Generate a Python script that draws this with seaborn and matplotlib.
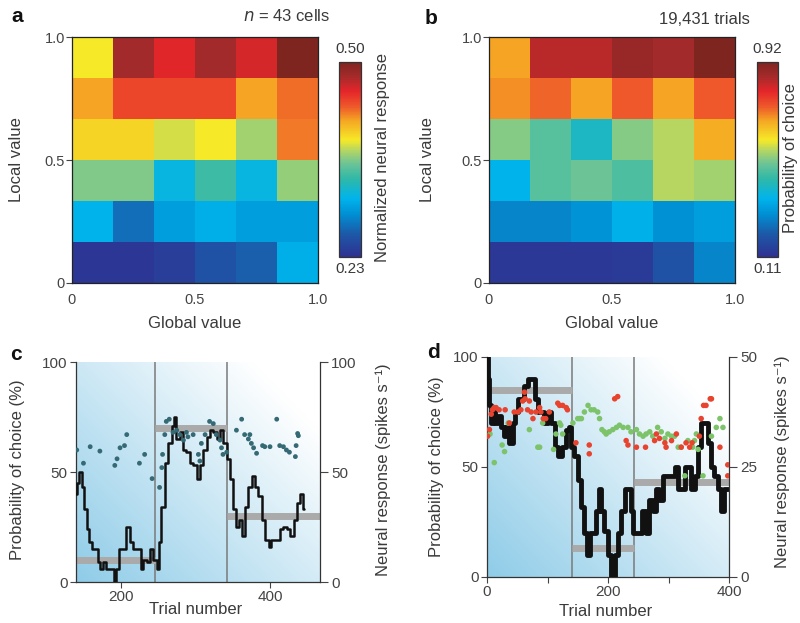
import numpy as np
import pandas as pd
import matplotlib
matplotlib.use('Agg')
import matplotlib.pyplot as plt
import seaborn as sns
from matplotlib.colors import LinearSegmentedColormap

# ---- panel a: normalized neural response (rows: local value 1.0 at top -> 0 at bottom)
resp_rows = [
    [0.392, 0.481, 0.460, 0.481, 0.465, 0.500],
    [0.419, 0.446, 0.446, 0.446, 0.419, 0.433],
    [0.400, 0.400, 0.384, 0.392, 0.373, 0.430],
    [0.365, 0.365, 0.316, 0.343, 0.316, 0.370],
    [0.311, 0.273, 0.298, 0.308, 0.298, 0.298],
    [0.235, 0.235, 0.241, 0.257, 0.265, 0.308],
]
resp_range = (0.23, 0.50)

# ---- panel b: probability of choice
choice_rows = [
    [0.677, 0.839, 0.839, 0.880, 0.863, 0.920],
    [0.693, 0.726, 0.677, 0.734, 0.677, 0.734],
    [0.515, 0.475, 0.402, 0.515, 0.556, 0.669],
    [0.353, 0.475, 0.499, 0.466, 0.556, 0.539],
    [0.272, 0.272, 0.296, 0.345, 0.288, 0.313],
    [0.126, 0.126, 0.126, 0.134, 0.191, 0.272],
]
choice_range = (0.11, 0.92)

# ---- panel c: one session
c_trial = [140, 143, 146, 149, 153, 156, 159, 163, 167, 171, 174, 178, 183, 190, 192, 195, 199, 205, 210, 214,
           219, 225, 228, 232, 237, 241, 246, 250, 252, 257, 261, 266, 270, 272, 277, 281, 286, 290, 295, 299,
           304, 308, 313, 317, 322, 326, 331, 335, 340, 344, 349, 353, 356, 360, 364, 369, 373, 378, 382, 387,
           391, 396, 400, 404, 411, 416, 420, 425, 429, 434, 438, 443, 446]
c_choice = [40, 45, 50, 43, 33, 24, 18, 15, 15, 9, 6, 9, 6, 6, 0, 6, 15, 15, 25, 18,
            15, 15, 6, 10, 9, 15, 10, 6, 18, 34, 54, 63, 71, 75, 65, 68, 60, 59, 54, 53,
            47, 53, 60, 66, 69, 68, 65, 69, 63, 56, 47, 33, 25, 28, 21, 34, 43, 48, 43, 39,
            28, 19, 16, 19, 19, 24, 25, 24, 21, 28, 36, 40, 33]
c_dot_trial = [141, 150, 159, 172, 192, 195, 199, 205, 208, 225, 232, 242,
               252, 255, 256, 259, 261, 265, 270, 275, 279, 284, 288, 290, 297, 304, 306, 308, 313, 319, 324,
               328, 333, 335, 337, 342,
               355, 362, 366, 371, 373, 375, 378, 382, 390, 393, 400, 409, 413, 418, 422, 426, 434, 435, 437, 438]
c_dot_rate = [60, 54, 61.5, 59.5, 53, 56, 61, 62, 67, 54, 58, 47,
              43, 52, 58, 67, 73, 74, 68, 69, 67, 64.5, 68, 66, 67, 58, 55, 63, 67, 73, 72,
              67, 64.5, 61, 58, 59,
              69, 74, 67, 65, 67, 63, 61, 58.5, 62, 61.5, 61.5, 74, 62, 61.5, 60, 59, 57, 62, 67.5, 66.5]
c_blocks = [140, 246, 342, 467]
c_block_mean = [10, 70, 30]

# ---- panel d: another session
d_trial = [1, 3, 5, 8, 12, 16, 20, 26, 30, 34, 40, 45, 49, 54, 59, 63, 71, 78, 82, 87,
           92, 98, 103, 110, 114, 120, 128, 133, 137, 142, 147, 153, 158, 164, 168, 172, 178, 183, 187, 191,
           197, 202, 208, 214, 219, 225, 230, 236, 239, 244, 252, 260, 266, 271, 277, 282, 288, 294, 299, 307,
           313, 318, 324, 329, 335, 340, 346, 351, 357, 362, 368, 373, 379, 385, 389, 393, 398]
d_choice = [100, 90, 78, 70, 75, 70, 73, 68, 64, 68, 61, 70, 75, 81, 81, 87, 90, 90, 81, 75,
            75, 70, 75, 70, 59, 55, 59, 67, 68, 59, 55, 44, 32, 20, 10, 20, 20, 30, 40, 30,
            21, 10, 0, 10, 20, 30, 40, 40, 30, 20, 20, 30, 20, 35, 30, 40, 35, 46, 46, 46,
            50, 40, 40, 50, 50, 40, 46, 59, 70, 70, 61, 50, 46, 40, 30, 40, 40]
d_red_trial = [1, 4, 7, 9, 12, 15, 20, 30, 37, 45, 51, 56, 59, 62, 63, 67, 70, 73, 76, 81,
               87, 89, 93, 97, 103, 117, 120, 125, 131, 133, 147, 169, 169, 211, 216, 230, 233, 247, 262, 277,
               280, 285, 294, 296, 305, 313, 321, 329, 335, 339, 351, 354, 358, 362, 369, 371, 385, 398, 398]
d_red_rate = [32, 33.5, 37, 38, 38.5, 38.5, 38, 38, 35, 37.5, 37.5, 38, 40, 42, 40.5, 38, 40, 37.5, 36, 37.5,
              38.5, 37.5, 36, 36, 37.5, 39.5, 39, 39, 38.5, 38, 30.5, 30, 28, 40.5, 41, 31, 30, 29.5, 29.5, 31,
              32.5, 31.5, 30.5, 29.5, 31, 32.5, 29.5, 30.5, 29.5, 30.5, 32, 36, 39, 39, 40.5, 40.5, 29.5, 25.5, 23]
d_green_trial = [5, 12, 25, 29, 35, 70, 84, 87, 92, 110, 114, 120, 122, 125, 142, 150, 153, 156, 161, 167,
                 172, 177, 183, 186, 190, 194, 197, 202, 208, 214, 219, 225, 233, 238, 247, 252, 258, 263, 269, 274,
                 282, 288, 294, 299, 305, 310, 316, 321, 327, 332, 340, 343, 346, 349, 357, 371, 379, 385, 390]
d_green_rate = [32.5, 26, 30, 28.5, 35, 33.5, 29.5, 29.5, 35, 29, 32.5, 35, 34.5, 32.5, 35, 36, 36, 36, 37.5, 39,
                38, 38, 37.5, 36, 33.5, 33, 32.5, 33, 33.5, 34, 34.5, 34, 34, 33, 33.5, 32.5, 32, 32.5, 33, 32,
                34, 33, 31.5, 32.5, 32, 32, 29.5, 29.5, 23, 31, 29.5, 31, 32.5, 29, 23, 32, 34, 36, 34]
d_blocks = [0, 140, 243, 400]
d_block_mean = [85, 13, 43]

value_ticks = ['0', '0.5', '1.0']

sns.set_style('ticks')
plt.rcParams['font.family'] = ['Liberation Sans', 'DejaVu Sans']
TXT = '#3a3a3a'
plt.rcParams['text.color'] = TXT
plt.rcParams['axes.labelcolor'] = TXT
plt.rcParams['xtick.color'] = '#444444'
plt.rcParams['ytick.color'] = '#444444'

W, H = 800, 623
fig = plt.figure(figsize=(8, 6.23), dpi=100)


def box(x0, y0, x1, y1):
    return [x0 / W, 1 - y1 / H, (x1 - x0) / W, (y1 - y0) / H]


def ftext(x, y, s, **kw):
    fig.text(x / W, 1 - y / H, s, **kw)


cmap = LinearSegmentedColormap.from_list('value', list(zip(
    [0, 0.12, 0.22, 0.3, 0.4, 0.48, 0.55, 0.6, 0.7, 0.77, 0.85, 0.93, 1.0],
    ['#2e3192', '#1c5aa8', '#0090d4', '#00b4ec', '#2fb8a8', '#6dc496', '#b8d660',
     '#f6e928', '#f5a623', '#ee5a2a', '#e5262a', '#a32a2a', '#7f2520'])))


def heat(rows, rng, ax_box, cb_box, ylab_x, cblabel, cblabel_x):
    ax = fig.add_axes(box(*ax_box))
    cax = fig.add_axes(box(*cb_box))
    df = pd.DataFrame(rows)
    sns.heatmap(df, ax=ax, cbar_ax=cax, cmap=cmap, vmin=rng[0], vmax=rng[1],
                xticklabels=False, yticklabels=False)
    ax.set_xticks([0, 3, 6])
    ax.set_xticklabels(value_ticks, fontsize=10.5)
    ax.set_yticks([6, 3, 0])
    ax.set_yticklabels(value_ticks, fontsize=10.5, rotation=0)
    ax.tick_params(axis='y', left=True, length=4, width=0.8, pad=1)
    ax.tick_params(axis='x', bottom=False, pad=4)
    for s in ax.spines.values():
        s.set_visible(True)
        s.set_color('#222222')
        s.set_linewidth(0.9)
    ax.set_xlabel('')
    ax.set_ylabel('')
    cax.set_yticks([])
    cb = ax.collections[0].colorbar
    cb.outline.set_edgecolor('#333333')
    cb.outline.set_linewidth(0.9)
    cx = (cb_box[0] + cb_box[2]) / 2
    ftext(cx, cb_box[1] - 13, f'{rng[1]:.2f}', ha='center', va='center', fontsize=11)
    ftext(cx, cb_box[3] + 12, f'{rng[0]:.2f}', ha='center', va='center', fontsize=11)
    ftext(cblabel_x, 158, cblabel, rotation=90, ha='center', va='center', fontsize=12)
    ftext(ylab_x, 160, 'Local value', rotation=90, ha='center', va='center', fontsize=12)
    ftext((ax_box[0] + ax_box[2]) / 2, 324, 'Global value', ha='center', va='center', fontsize=12)
    return ax


heat(resp_rows, resp_range, (72, 37, 318, 283), (339, 62, 361, 257), 17,
     'Normalized neural response', 383)
heat(choice_rows, choice_range, (489, 37, 735, 283), (757, 62, 778, 257), 428,
     'Probability of choice', 791)

ftext(17, 16, 'a', fontsize=15, fontweight='bold', ha='center', va='center', color='#111111')
ftext(431, 18, 'b', fontsize=15, fontweight='bold', ha='center', va='center', color='#111111')
ftext(330, 16, '$n$ = 43 cells', ha='right', va='center', fontsize=12)
ftext(750, 20, '19,431 trials', ha='right', va='center', fontsize=12)


def gradient(ax):
    x0, x1 = ax.get_xlim()
    y0, y1 = ax.get_ylim()
    xx, yy = np.meshgrid(np.linspace(0, 1, 200), np.linspace(0, 1, 200))
    w = np.clip(1 - 0.62 * xx - 0.55 * yy, 0, 1)[..., None]
    blue = np.array([0.56, 0.80, 0.91])
    img = (1 - w) * np.ones(3) + w * blue
    ax.imshow(img, extent=(x0, x1, y0, y1), origin='lower', aspect='auto', zorder=0)


def session(ax_box, trial, choice, blocks, means, xlim, rmax, xticks, xticklabels, lw):
    ax = fig.add_axes(box(*ax_box))
    ax.set_xlim(*xlim)
    ax.set_ylim(0, 100)
    gradient(ax)
    for b in blocks[1:-1]:
        ax.axvline(b, color='#7a7a7a', lw=1.1, zorder=1)
    ax.hlines(means, blocks[:-1], blocks[1:], color='#aaaaaa', lw=5, zorder=2)
    sns.lineplot(x=trial, y=choice, ax=ax, color='#111111', lw=lw, drawstyle='steps-mid', zorder=4)
    ax.set_yticks([0, 50, 100])
    ax.set_yticklabels(['0', '50', '100'], fontsize=11)
    ax.set_xticks(xticks)
    ax.set_xticklabels(xticklabels, fontsize=11)
    ax.tick_params(length=4, width=0.8, pad=2)
    ax.spines['top'].set_visible(False)
    ax.spines['right'].set_visible(False)
    for s in ('left', 'bottom'):
        ax.spines[s].set_color('#333333')
        ax.spines[s].set_linewidth(0.9)
    ax2 = ax.twinx()
    ax2.set_ylim(0, rmax)
    ax2.set_yticks([0, rmax / 2, rmax])
    ax2.set_yticklabels([f'{v:g}' for v in (0, rmax / 2, rmax)], fontsize=11)
    ax2.tick_params(length=6, width=0.8, pad=2)
    ax2.spines['top'].set_visible(False)
    ax2.spines['left'].set_visible(False)
    ax2.spines['bottom'].set_visible(False)
    ax2.spines['right'].set_color('#333333')
    ax2.spines['right'].set_linewidth(0.9)
    ax.set_zorder(1)
    ax2.set_zorder(2)
    ax2.patch.set_visible(False)
    return ax, ax2


ax_c, ax_c2 = session((76, 362, 320, 582), c_trial, c_choice, c_blocks, c_block_mean,
                      (140, 467), 100, [200, 400], ['200', '400'], 1.8)
sns.scatterplot(x=c_dot_trial, y=c_dot_rate, ax=ax_c2, color='#356a75', s=12, edgecolor='none', zorder=3)

ax_d, ax_d2 = session((487, 357, 729, 577), d_trial, d_choice, d_blocks, d_block_mean,
                      (0, 400), 50, [0, 100, 200, 300, 400], ['0', '', '200', '', '400'], 3.5)
sns.scatterplot(x=d_green_trial, y=d_green_rate, ax=ax_d2, color='#7cc36a', s=16, edgecolor='none', zorder=3)
sns.scatterplot(x=d_red_trial, y=d_red_rate, ax=ax_d2, color='#e8432e', s=16, edgecolor='none', zorder=3)

for a in (ax_c, ax_c2, ax_d, ax_d2):
    a.set_xlabel('')
    a.set_ylabel('')

ftext(16, 355, 'c', fontsize=15, fontweight='bold', ha='center', va='center', color='#111111')
ftext(433, 353, 'd', fontsize=15, fontweight='bold', ha='center', va='center', color='#111111')
ftext(18, 470, 'Probability of choice (%)', rotation=90, ha='center', va='center', fontsize=12)
ftext(437, 467, 'Probability of choice (%)', rotation=90, ha='center', va='center', fontsize=12)
ftext(383, 470, 'Neural response (spikes s\u207b\u00b9)', rotation=90, ha='center', va='center', fontsize=12)
ftext(782, 462, 'Neural response (spikes s\u207b\u00b9)', rotation=90, ha='center', va='center', fontsize=12)
ftext(196, 610, 'Trial number', ha='center', va='center', fontsize=12)
ftext(606, 612, 'Trial number', ha='center', va='center', fontsize=12)

fig.savefig('out.png', dpi=100)
